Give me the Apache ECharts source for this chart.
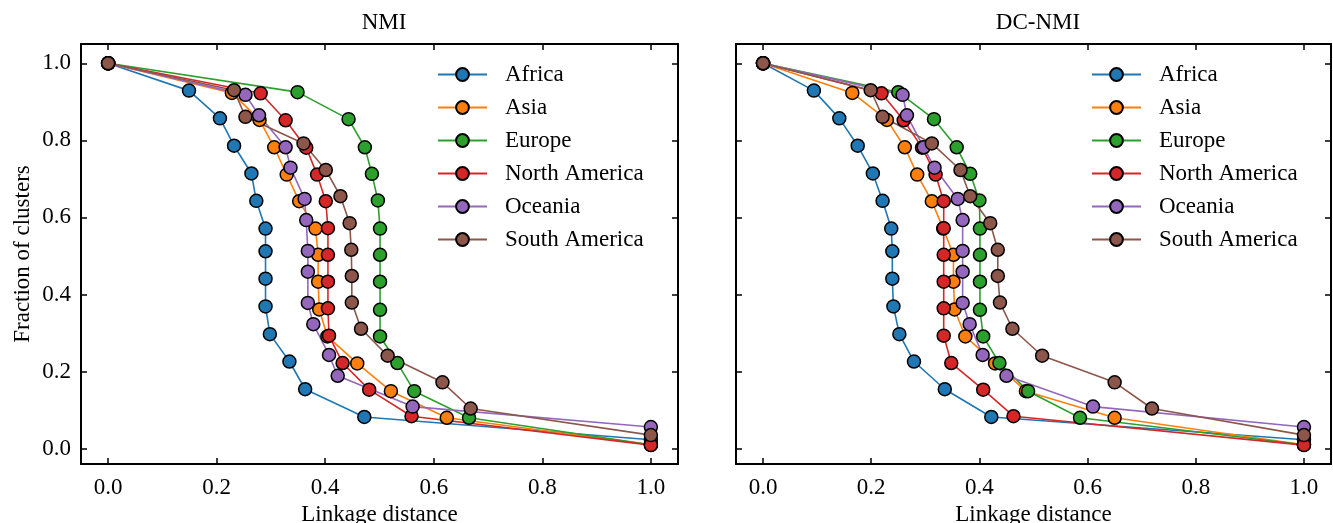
<!DOCTYPE html>
<html>
<head>
<meta charset="utf-8">
<script src="https://cdn.jsdelivr.net/npm/echarts@6/dist/echarts.min.js"></script>
<style>
  html, body { margin: 0; padding: 0; background: #fff; }
  #chart { width: 1333px; height: 523px; }
</style>
</head>
<body>
<div id="chart"></div>
<script>
// Continents, in plotting order
const continents = ['Africa', 'Asia', 'Europe', 'North America', 'Oceania', 'South America'];
const colors = ['#1f77b4', '#ff7f0e', '#2ca02c', '#d62728', '#9467bd', '#8c564b'];

// Fraction of clusters at each step (shared by both metrics)
const fracAfrica = [1.0, 0.929, 0.857, 0.786, 0.714, 0.643, 0.571, 0.512, 0.441, 0.369, 0.297, 0.226, 0.154, 0.082, 0.023];
const fracAsia = [1.0, 0.923, 0.853, 0.782, 0.711, 0.642, 0.571, 0.503, 0.433, 0.361, 0.291, 0.221, 0.149, 0.080, 0.010];
const fracEurope = [1.0, 0.925, 0.855, 0.782, 0.713, 0.644, 0.571, 0.503, 0.433, 0.360, 0.291, 0.222, 0.149, 0.080, 0.010];
const fracNorthAmerica = [1.0, 0.922, 0.852, 0.781, 0.711, 0.642, 0.572, 0.503, 0.433, 0.364, 0.293, 0.222, 0.153, 0.084, 0.009];
const fracOceania = [1.0, 0.918, 0.865, 0.782, 0.729, 0.648, 0.593, 0.513, 0.459, 0.378, 0.323, 0.243, 0.189, 0.109, 0.056];
const fracSouthAmerica = [1.0, 0.930, 0.861, 0.792, 0.723, 0.655, 0.585, 0.516, 0.448, 0.379, 0.311, 0.241, 0.172, 0.104, 0.035];

// Linkage distances, NMI
const nmiAfrica = [0, 0.149, 0.206, 0.232, 0.264, 0.273, 0.290, 0.290, 0.290, 0.290, 0.298, 0.334, 0.363, 0.472, 1.0];
const nmiAsia = [0, 0.228, 0.279, 0.306, 0.329, 0.352, 0.382, 0.387, 0.387, 0.389, 0.404, 0.459, 0.521, 0.624, 1.0];
const nmiEurope = [0, 0.349, 0.443, 0.473, 0.486, 0.497, 0.501, 0.501, 0.501, 0.501, 0.501, 0.533, 0.564, 0.665, 1.0];
const nmiNorthAmerica = [0, 0.281, 0.327, 0.365, 0.385, 0.401, 0.405, 0.405, 0.405, 0.405, 0.407, 0.432, 0.481, 0.559, 1.0];
const nmiOceania = [0, 0.253, 0.278, 0.327, 0.336, 0.362, 0.365, 0.368, 0.368, 0.368, 0.378, 0.407, 0.423, 0.561, 1.0];
const nmiSouthAmerica = [0, 0.232, 0.253, 0.360, 0.401, 0.428, 0.445, 0.448, 0.449, 0.449, 0.466, 0.515, 0.616, 0.668, 1.0];

// Linkage distances, DC-NMI
const dcAfrica = [0, 0.094, 0.141, 0.175, 0.203, 0.221, 0.237, 0.239, 0.239, 0.241, 0.252, 0.279, 0.336, 0.422, 1.0];
const dcAsia = [0, 0.165, 0.229, 0.262, 0.285, 0.312, 0.333, 0.352, 0.352, 0.354, 0.374, 0.429, 0.486, 0.650, 1.0];
const dcEurope = [0, 0.250, 0.316, 0.358, 0.383, 0.400, 0.401, 0.401, 0.401, 0.401, 0.407, 0.437, 0.490, 0.586, 1.0];
const dcNorthAmerica = [0, 0.219, 0.260, 0.294, 0.319, 0.334, 0.334, 0.334, 0.334, 0.334, 0.334, 0.348, 0.407, 0.463, 1.0];
const dcOceania = [0, 0.258, 0.266, 0.297, 0.317, 0.360, 0.369, 0.369, 0.369, 0.369, 0.382, 0.406, 0.450, 0.610, 1.0];
const dcSouthAmerica = [0, 0.199, 0.221, 0.312, 0.365, 0.383, 0.420, 0.434, 0.434, 0.438, 0.461, 0.516, 0.650, 0.719, 1.0];

// Tick positions
const xTicks = [0.0, 0.2, 0.4, 0.6, 0.8, 1.0];
const yTicks = [0.0, 0.2, 0.4, 0.6, 0.8, 1.0];

const panelTitles = ['NMI', 'DC-NMI'];
const xAxisTitle = 'Linkage distance';
const yAxisTitle = 'Fraction of clusters';

const fracs = [fracAfrica, fracAsia, fracEurope, fracNorthAmerica, fracOceania, fracSouthAmerica];
const nmiX = [nmiAfrica, nmiAsia, nmiEurope, nmiNorthAmerica, nmiOceania, nmiSouthAmerica];
const dcX = [dcAfrica, dcAsia, dcEurope, dcNorthAmerica, dcOceania, dcSouthAmerica];

const FONT = 'Liberation Serif';
const FS = 23;

const grids = [
  { left: 81, top: 44, width: 597, height: 420, outerBoundsMode: 'none', containLabel: false },
  { left: 736, top: 44, width: 595, height: 420, outerBoundsMode: 'none', containLabel: false }
];

function xAxisFor(gridIndex, position, showLabels) {
  return {
    type: 'value', gridIndex, position,
    min: -0.05, max: 1.05,
    splitLine: { show: false },
    axisLine: { show: true, onZero: false, lineStyle: { color: '#000', width: 2 } },
    axisTick: { show: true, inside: true, length: 6, customValues: xTicks, lineStyle: { color: '#000', width: 1.5 } },
    axisLabel: {
      show: showLabels, customValues: xTicks, margin: 12,
      formatter: v => v.toFixed(1),
      color: '#000', fontFamily: FONT, fontSize: FS
    },
    name: showLabels ? xAxisTitle : '',
    nameLocation: 'middle', nameGap: 36,
    nameTextStyle: { color: '#000', fontFamily: FONT, fontSize: FS }
  };
}

function yAxisFor(gridIndex, position, showLabels, showName) {
  return {
    type: 'value', gridIndex, position,
    min: -0.04, max: 1.05,
    splitLine: { show: false },
    axisLine: { show: true, onZero: false, lineStyle: { color: '#000', width: 2 } },
    axisTick: { show: true, inside: true, length: 6, customValues: yTicks, lineStyle: { color: '#000', width: 1.5 } },
    axisLabel: {
      show: showLabels, customValues: yTicks, margin: 10,
      formatter: v => v.toFixed(1),
      color: '#000', fontFamily: FONT, fontSize: FS
    },
    name: showName ? yAxisTitle : '',
    nameLocation: 'middle', nameGap: 47,
    nameTextStyle: { color: '#000', fontFamily: FONT, fontSize: FS }
  };
}

const series = [];
[nmiX, dcX].forEach((xs, p) => {
  continents.forEach((name, i) => {
    series.push({
      type: 'line', name,
      xAxisIndex: p * 2, yAxisIndex: p * 2,
      data: xs[i].map((x, k) => [x, fracs[i][k]]),
      symbol: 'circle', symbolSize: 13, showAllSymbol: true,
      itemStyle: { color: colors[i], borderColor: '#000', borderWidth: 1.5 },
      lineStyle: { color: colors[i], width: 1.6 },
      emphasis: { disabled: true }
    });
  });
});

function legendFor(left) {
  return {
    orient: 'vertical', left, top: 58,
    data: continents,
    itemWidth: 49, itemHeight: 16, itemGap: 10,
    selectedMode: false,
    textStyle: { color: '#000', fontFamily: FONT, fontSize: FS, lineHeight: 23, padding: [0, 0, 0, 13] }
  };
}

const chart = echarts.init(document.getElementById('chart'), null, { renderer: 'canvas' });
chart.setOption({
  animation: false,
  backgroundColor: '#fff',
  color: colors,
  title: [
    { text: panelTitles[0], left: 379, top: 6, textAlign: 'center',
      textStyle: { color: '#000', fontFamily: FONT, fontSize: FS, fontWeight: 'normal' } },
    { text: panelTitles[1], left: 1033, top: 6, textAlign: 'center',
      textStyle: { color: '#000', fontFamily: FONT, fontSize: FS, fontWeight: 'normal' } }
  ],
  legend: [legendFor(432), legendFor(1086)],
  grid: grids,
  xAxis: [
    xAxisFor(0, 'bottom', true), xAxisFor(0, 'top', false),
    xAxisFor(1, 'bottom', true), xAxisFor(1, 'top', false)
  ],
  yAxis: [
    yAxisFor(0, 'left', true, true), yAxisFor(0, 'right', false, false),
    yAxisFor(1, 'left', false, false), yAxisFor(1, 'right', false, false)
  ],
  series
});
</script>
</body>
</html>
